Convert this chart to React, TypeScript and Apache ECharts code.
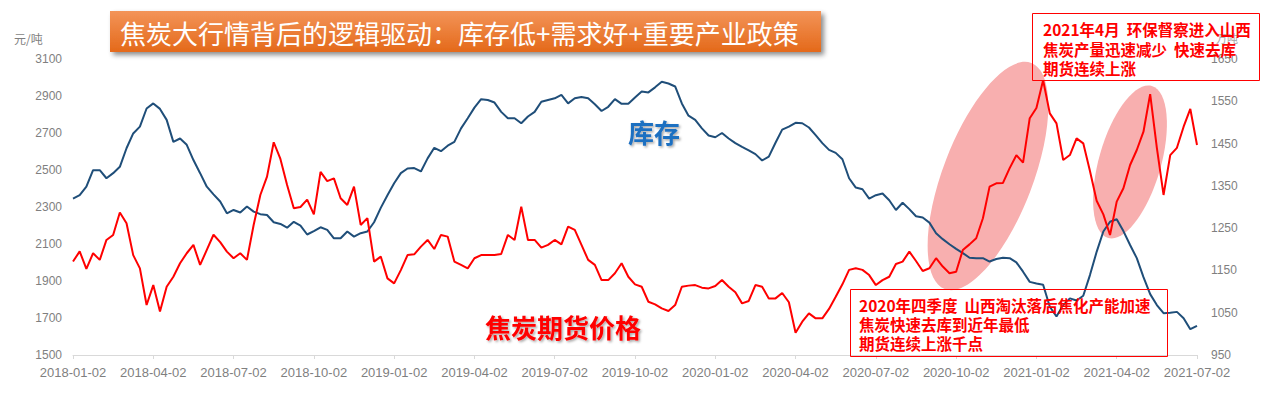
import React, { useEffect, useRef } from "react";
import * as echarts from "echarts";

// quarterly tick labels on x axis come from the category list (every 12th)
const YEARS = [2018, 2019, 2020, 2021];
const DAYS = ["02", "09", "17", "24"];
const DATES: string[] = [];
for (const y of YEARS) {
  for (let m = 1; m <= 12; m++) {
    if (y === 2021 && m > 6) break;
    for (const d of DAYS) DATES.push(`${y}-${String(m).padStart(2, "0")}-${d}`);
  }
}
DATES.push("2021-07-02");

const LEFT_TICKS = [1500, 1700, 1900, 2100, 2300, 2500, 2700, 2900, 3100];
const RIGHT_TICKS = [950, 1050, 1150, 1250, 1350, 1450, 1550, 1650];

// 焦炭期货价格 (元/吨, left axis)
const PRICE = [
  2005, 2060, 1965, 2050, 2014, 2122, 2149, 2270, 2212, 2040,
  1968, 1770, 1878, 1735, 1869, 1923, 1996, 2050, 2095, 1987,
  2068, 2150, 2110, 2059, 2023, 2050, 2014, 2203, 2365, 2464,
  2650, 2560, 2419, 2293, 2300, 2340, 2260, 2490, 2440, 2455,
  2347, 2311, 2410, 2203, 2240, 2005, 2032, 1914, 1887, 1959,
  2040, 2044, 2086, 2122, 2073, 2149, 2140, 2005, 1987, 1968,
  2023, 2040, 2040, 2040, 2046, 2149, 2122, 2302, 2122, 2122,
  2080, 2095, 2122, 2098, 2194, 2176, 2095, 2014, 1987, 1905,
  1905, 1942, 1996, 1923, 1882, 1869, 1788, 1774, 1752, 1738,
  1770, 1869, 1875, 1878, 1864, 1860, 1873, 1905, 1869, 1839,
  1779, 1792, 1878, 1869, 1806, 1806, 1835, 1785, 1620, 1680,
  1725, 1698, 1698, 1749, 1815, 1882, 1960, 1969, 1960, 1932,
  1878, 1905, 1923, 1992, 2005, 2059, 2008, 1954, 1969, 2023,
  1978, 1942, 1950, 2068, 2098, 2131, 2239, 2410, 2428, 2430,
  2510, 2580, 2540, 2780, 2835, 2985, 2806, 2752, 2554, 2581,
  2671, 2644, 2495, 2334, 2260, 2149, 2329, 2401, 2527, 2608,
  2707, 2910, 2620, 2365, 2580, 2620, 2734, 2830, 2635,
];

// 库存 (万吨, right axis)
const STOCK = [
  1320, 1328, 1348, 1387, 1387, 1368, 1380, 1395, 1439, 1474,
  1490, 1533, 1545, 1532, 1506, 1454, 1462, 1447, 1411, 1380,
  1348, 1330, 1313, 1285, 1293, 1287, 1301, 1289, 1283, 1281,
  1264, 1260, 1251, 1265, 1256, 1235, 1243, 1252, 1246, 1226,
  1226, 1242, 1230, 1238, 1242, 1264, 1298, 1328, 1356, 1380,
  1391, 1392, 1384, 1415, 1440, 1432, 1445, 1454, 1486, 1510,
  1535, 1555, 1553, 1547, 1525, 1510, 1510, 1498, 1514, 1525,
  1549, 1553, 1557, 1565, 1545, 1557, 1560, 1557, 1543, 1527,
  1537, 1555, 1544, 1544, 1559, 1573, 1571, 1583, 1596, 1592,
  1585, 1545, 1516, 1506, 1486, 1469, 1465, 1475, 1462, 1451,
  1442, 1434, 1425, 1410, 1419, 1452, 1483, 1490, 1499, 1498,
  1488, 1470, 1451, 1435, 1428, 1413, 1368, 1346, 1342, 1320,
  1328, 1332, 1316, 1293, 1310, 1295, 1278, 1275, 1263, 1238,
  1224, 1212, 1201, 1191, 1180, 1179, 1179, 1171, 1177, 1180,
  1179, 1169, 1147, 1123, 1119, 1116, 1064, 1041, 1068, 1084,
  1079, 1090, 1139, 1194, 1242, 1265, 1271, 1243, 1210, 1179,
  1134, 1094, 1068, 1049, 1050, 1052, 1037, 1011, 1019,
];

const TITLE = "焦炭大行情背后的逻辑驱动：库存低+需求好+重要产业政策";
const NOTE_1 = ["2020年四季度  山西淘汰落后焦化产能加速", "焦炭快速去库到近年最低", "期货连续上涨千点"];
const NOTE_2 = ["2021年4月  环保督察进入山西", "焦炭产量迅速减少  快速去库", "期货连续上涨"];

const CJK = '"Noto Sans CJK SC", "Liberation Sans", sans-serif';
const LATIN = '"Liberation Sans", Arial, "Noto Sans CJK SC", sans-serif';
const GREY = "#7F7F7F";

function noteLines(lines: string[], x: number, y0: number, step: number) {
  return lines.map((t, k) => ({
    type: "text",
    z: 12,
    style: {
      x,
      y: y0 + k * step,
      text: t,
      fill: "#FF0000",
      fontSize: 15.5,
      fontWeight: "bold",
      fontFamily: CJK,
      verticalAlign: "middle",
    },
  }));
}

export default function App() {
  const ref = useRef<HTMLDivElement>(null);
  useEffect(() => {
    if (!ref.current) return;
    const chart = echarts.init(ref.current, undefined, { renderer: "svg" });
    chart.setOption({
      animation: false,
      backgroundColor: "#ffffff",
      textStyle: { fontFamily: LATIN },
      grid: { left: 73, right: 71, top: 59, bottom: 40, containLabel: false },
      xAxis: {
        type: "category",
        data: DATES,
        boundaryGap: false,
        axisLine: { lineStyle: { color: "#D9D9D9", width: 1 } },
        axisTick: { show: true, interval: 11, length: 4, lineStyle: { color: "#D9D9D9" } },
        axisLabel: { interval: 11, color: GREY, fontSize: 13, margin: 11, showMinLabel: true, showMaxLabel: true },
        splitLine: { show: false },
      },
      yAxis: [
        {
          type: "value",
          position: "left",
          min: 1500,
          max: 3100,
          interval: 100,
          axisLine: { show: false },
          axisTick: { show: false },
          splitLine: { show: false },
          axisLabel: {
            color: GREY,
            fontSize: 12,
            margin: 11,
            formatter: (v: number) => (LEFT_TICKS.includes(v) ? String(v) : ""),
          },
        },
        {
          type: "value",
          position: "right",
          min: 950,
          max: 1650,
          interval: 50,
          axisLine: { show: false },
          axisTick: { show: false },
          splitLine: { show: false },
          axisLabel: {
            color: GREY,
            fontSize: 12,
            margin: 14,
            formatter: (v: number) => (RIGHT_TICKS.includes(v) ? String(v) : ""),
          },
        },
      ],
      series: [
        {
          type: "line",
          name: "库存",
          yAxisIndex: 1,
          data: STOCK,
          showSymbol: false,
          symbol: "none",
          lineStyle: { color: "#1F4E79", width: 2 },
          itemStyle: { color: "#1F4E79" },
          z: 3,
        },
        {
          type: "line",
          name: "焦炭期货价格",
          yAxisIndex: 0,
          data: PRICE,
          showSymbol: false,
          symbol: "none",
          lineStyle: { color: "#FF0000", width: 2 },
          itemStyle: { color: "#FF0000" },
          z: 4,
        },
      ],
      graphic: [
        {
          type: "ellipse",
          x: 988,
          y: 176,
          rotation: (-21 * Math.PI) / 180,
          shape: { cx: 0, cy: 0, rx: 45, ry: 121 },
          style: { fill: "#F8AFAF" },
          z: 0,
          silent: true,
        },
        {
          type: "ellipse",
          x: 1130,
          y: 162,
          rotation: (-16 * Math.PI) / 180,
          shape: { cx: 0, cy: 0, rx: 31, ry: 79 },
          style: { fill: "#F8AFAF" },
          z: 0,
          silent: true,
        },
        {
          type: "rect",
          shape: { x: 110, y: 11, width: 711, height: 41 },
          style: {
            fill: new echarts.graphic.LinearGradient(0, 0, 0, 1, [
              { offset: 0, color: "#F39458" },
              { offset: 1, color: "#E4691A" },
            ]),
            shadowBlur: 5,
            shadowOffsetX: 3,
            shadowOffsetY: 3,
            shadowColor: "rgba(0,0,0,0.45)",
          },
          z: 10,
        },
        {
          type: "text",
          z: 11,
          style: {
            x: 120,
            y: 32,
            text: TITLE,
            fill: "#FFFFFF",
            fontSize: 26,
            fontFamily: CJK,
            verticalAlign: "middle",
          },
        },
        {
          type: "text",
          z: 11,
          style: { x: 14, y: 38, text: "元/吨", fill: GREY, fontSize: 12, fontFamily: CJK, verticalAlign: "middle" },
        },
        {
          type: "text",
          z: 11,
          style: { x: 1216, y: 38, text: "万吨", fill: "#A6A6A6", fontSize: 11, fontFamily: CJK, verticalAlign: "middle" },
        },
        {
          type: "text",
          z: 11,
          style: {
            x: 654,
            y: 131,
            text: "库存",
            fill: "#1F70C1",
            fontSize: 26,
            fontWeight: "bold",
            fontFamily: CJK,
            align: "center",
            verticalAlign: "middle",
            textShadowColor: "rgba(0,0,0,0.35)",
            textShadowBlur: 2,
            textShadowOffsetX: 1.5,
            textShadowOffsetY: 1.5,
          },
        },
        {
          type: "text",
          z: 11,
          style: {
            x: 563,
            y: 326,
            text: "焦炭期货价格",
            fill: "#FF0000",
            fontSize: 26,
            fontWeight: "bold",
            fontFamily: CJK,
            align: "center",
            verticalAlign: "middle",
            textShadowColor: "rgba(0,0,0,0.35)",
            textShadowBlur: 2,
            textShadowOffsetX: 1.5,
            textShadowOffsetY: 1.5,
          },
        },
        {
          type: "rect",
          z: 12,
          shape: { x: 850.5, y: 289.5, width: 317, height: 67 },
          style: { fill: "none", stroke: "#FF0000", lineWidth: 1 },
        },
        ...noteLines(NOTE_1, 859, 305, 19),
        {
          type: "rect",
          z: 12,
          shape: { x: 1032.5, y: 13.5, width: 227, height: 67 },
          style: { fill: "none", stroke: "#FF0000", lineWidth: 1 },
        },
        ...noteLines(NOTE_2, 1043, 29, 19.5),
      ],
    });
    return () => chart.dispose();
  }, []);
  return (
    <div
      ref={ref}
      style={{ position: "fixed", left: 0, top: 0, width: 1268, height: 395, background: "#fff" }}
    />
  );
}
